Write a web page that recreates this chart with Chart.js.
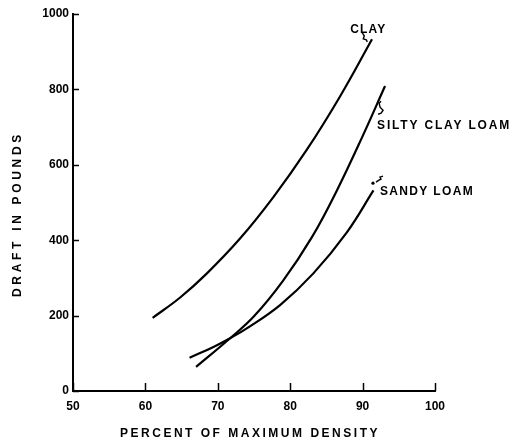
<!DOCTYPE html>
<html>
<head>
<meta charset="utf-8">
<script src="https://cdn.jsdelivr.net/npm/chart.js@4/dist/chart.umd.min.js"></script>
<style>
  html, body { margin: 0; padding: 0; background: #fff; }
  #wrap { width: 512px; height: 445px; }
</style>
</head>
<body>
<div id="wrap"><canvas id="myChart" width="512" height="445"></canvas></div>
<script>
// values
const clayX = [61, 64.8, 68.5, 73.1, 77.7, 82.3, 86.9, 91.3]
const clayY = [194, 248, 312, 405, 515, 640, 782, 933]
const siltyX = [67, 71.7, 75, 79, 83, 86.4, 90.1, 93.1]
const siltyY = [64, 140, 198, 292, 408, 530, 680, 809]
const sandyX = [66.1, 69.4, 71.7, 74.0, 78.6, 83.2, 87.8, 91.5]
const sandyY = [88, 117, 140, 166, 228, 312, 420, 532]

const xTicks = [50, 60, 70, 80, 90, 100]
const yTicks = [0, 200, 400, 600, 800, 1000]

const pts = (xs, ys) => xs.map((x, i) => ({ x: x, y: ys[i] }))

// curve labels, placed in data units
const curveLabels = [
    { text: 'CLAY', x: 88.3, y: 958, w: 36 },
    { text: 'SILTY CLAY LOAM', x: 92.0, y: 705, w: 134 },
    { text: 'SANDY LOAM', x: 92.4, y: 530, w: 94 }
]

const tickFont = { family: 'Liberation Sans', size: 12, weight: 'bold' }

// squeeze or stretch text to a given width via letter spacing
function spacedText(ctx, text, x, y, width) {
    ctx.letterSpacing = '0px'
    const w = ctx.measureText(text).width
    ctx.letterSpacing = ((width - w) / text.length) + 'px'
    ctx.fillText(text, x, y)
}

const drawExtras = {
    id: 'drawExtras',
    afterDraw(chart) {
        const ctx = chart.ctx
        const xs = chart.scales.x
        const ys = chart.scales.y
        const area = chart.chartArea
        ctx.save()
        ctx.strokeStyle = '#000'
        ctx.fillStyle = '#000'
        // inner tick marks
        ctx.lineWidth = 1.5
        xTicks.forEach(v => {
            const px = Math.round(xs.getPixelForValue(v)) + 0.5
            ctx.beginPath()
            ctx.moveTo(px, area.bottom)
            ctx.lineTo(px, area.bottom - 8)
            ctx.stroke()
        })
        yTicks.forEach(v => {
            const py = Math.round(ys.getPixelForValue(v)) + 0.5
            ctx.beginPath()
            ctx.moveTo(area.left, py)
            ctx.lineTo(area.left + 6, py)
            ctx.stroke()
        })

        // curve labels
        ctx.font = 'bold 12px "Liberation Sans"'
        ctx.textBaseline = 'middle'
        ctx.textAlign = 'left'
        curveLabels.forEach(l => {
            spacedText(ctx, l.text, xs.getPixelForValue(l.x), ys.getPixelForValue(l.y), l.w)
        })

        // little squiggle leaders
        ctx.lineWidth = 1.4
        const squiggle = (x0, y0, pathPts) => {
            ctx.beginPath()
            ctx.moveTo(x0 + pathPts[0][0], y0 + pathPts[0][1])
            for (let i = 1; i < pathPts.length; i++) ctx.lineTo(x0 + pathPts[i][0], y0 + pathPts[i][1])
            ctx.stroke()
        }
        const c = curveLabels[0]
        squiggle(xs.getPixelForValue(c.x), ys.getPixelForValue(c.y),
            [[12, 3], [14, 6], [13, 9], [16, 10], [17, 12]])
        const s = curveLabels[1]
        squiggle(xs.getPixelForValue(s.x), ys.getPixelForValue(s.y),
            [[4, -24], [2, -22], [3, -18], [6, -15], [4, -12], [1, -11]])
        const d = curveLabels[2]
        squiggle(xs.getPixelForValue(d.x), ys.getPixelForValue(d.y),
            [[-4, -9], [-1, -11], [1, -12], [0, -14], [3, -15]])
        ctx.beginPath()
        ctx.arc(xs.getPixelForValue(d.x) - 7, ys.getPixelForValue(d.y) - 8, 1.6, 0, Math.PI * 2)
        ctx.fill()

        // axis titles
        ctx.font = 'bold 12px "Liberation Sans"'
        ctx.textAlign = 'left'
        spacedText(ctx, 'PERCENT OF MAXIMUM DENSITY', 120, 434, 260)
        ctx.save()
        ctx.translate(18, 297)
        ctx.rotate(-Math.PI / 2)
        spacedText(ctx, 'DRAFT IN POUNDS', 0, 0, 166)
        ctx.restore()
        ctx.restore()
    }
}

const lineStyle = {
    borderColor: '#000',
    borderWidth: 2.2,
    pointRadius: 0,
    showLine: true,
    fill: false,
    tension: 0.4
}

let myChart = new Chart(document.getElementById('myChart').getContext('2d'), {
    type: 'scatter',
    data: {
        datasets: [
            Object.assign({ label: 'Clay', data: pts(clayX, clayY) }, lineStyle),
            Object.assign({ label: 'Silty clay loam', data: pts(siltyX, siltyY) }, lineStyle),
            Object.assign({ label: 'Sandy loam', data: pts(sandyX, sandyY) }, lineStyle)
        ]
    },
    options: {
        responsive: false,
        animation: false,
        layout: { padding: { left: 0, right: 77, top: 14, bottom: 0 } },
        plugins: {
            legend: { display: false },
            tooltip: { enabled: false }
        },
        scales: {
            x: {
                type: 'linear',
                min: 50,
                max: 100,
                afterFit: scale => { scale.height = 54 },
                afterBuildTicks: scale => { scale.ticks = xTicks.map(v => ({ value: v })) },
                ticks: { color: '#000', font: tickFont, padding: 8, callback: v => String(v) },
                grid: { display: false, drawTicks: false },
                border: { display: true, color: '#000', width: 2 }
            },
            y: {
                min: 0,
                max: 1000,
                afterFit: scale => { scale.width = 73 },
                afterBuildTicks: scale => { scale.ticks = yTicks.map(v => ({ value: v })) },
                ticks: { color: '#000', font: tickFont, padding: 4, callback: v => String(v) },
                grid: { display: false, drawTicks: false },
                border: { display: true, color: '#000', width: 2 }
            }
        }
    },
    plugins: [drawExtras]
})
</script>
</body>
</html>
